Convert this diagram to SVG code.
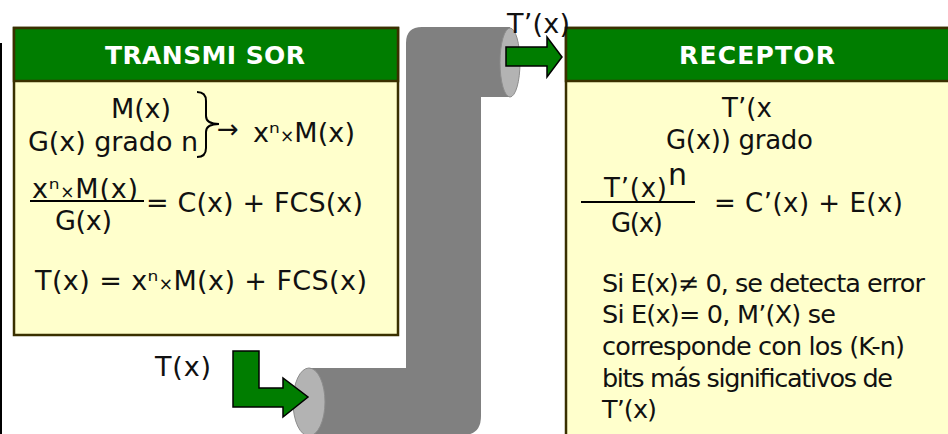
<svg xmlns="http://www.w3.org/2000/svg" width="948" height="434" viewBox="0 0 948 434">
<style>
text{font-family:"DejaVu Sans","Verdana",sans-serif;font-size:27px;fill:#111}
.hdr{font-weight:bold;fill:#fff;font-size:25px}
.r{font-size:26px}
.body{font-size:25.5px}
.box{fill:#ffffcc;stroke:#3a3000;stroke-width:2.5}
.head{fill:#007d00;stroke:#3a3000;stroke-width:2.5}
.frac{stroke:#000;stroke-width:2}
.arrow{fill:#007d00;stroke:#000;stroke-width:1.5;stroke-linejoin:miter}
.tube{fill:#808080}
.tubeEnd{fill:#b3b3b3;stroke:#8c8c8c;stroke-width:1}
.sm{font-size:17px}
</style>
<line x1="1" y1="43" x2="1" y2="434" stroke="#000" stroke-width="2"/>
<g id="canal">
<path class="tube" d="M309,368 L406,368 L406,43 Q406,27 422,27 L510,27 L510,97 L481,97 L481,416 Q481,435 463,435 L309,435 Z"/>
<ellipse class="tubeEnd" cx="510" cy="62.5" rx="10" ry="34.5"/>
<ellipse class="tubeEnd" cx="309" cy="402" rx="16" ry="34"/>
</g>
<g id="transmisor">
<rect class="box" x="14" y="28" width="384" height="307"/>
<rect class="head" x="14" y="28" width="384" height="53"/>
<text class="hdr" x="105" y="64" textLength="200" lengthAdjust="spacing">TRANSMI SOR</text>
<text x="111" y="118" textLength="60" lengthAdjust="spacing">M(x)</text>
<text x="28" y="151" textLength="170" lengthAdjust="spacing">G(x) grado n</text>
<path d="M197,92 Q206,92 206,101 L206,116 Q206,124 219,124 Q206,124 206,132 L206,148 Q206,157 197,157" fill="none" stroke="#000" stroke-width="2"/>
<text x="217" y="138" style="font-size:26px">→</text>
<text x="253" y="142" textLength="102" lengthAdjust="spacing">xⁿ<tspan class="sm">×</tspan>M(x)</text>
<text x="32" y="198" textLength="106" lengthAdjust="spacing">xⁿ<tspan class="sm">×</tspan>M(x)</text>
<line class="frac" x1="30" y1="201" x2="144" y2="201"/>
<text x="55" y="230" textLength="57" lengthAdjust="spacing">G(x)</text>
<text x="146" y="212" textLength="217" lengthAdjust="spacing">= C(x) + FCS(x)</text>
<text x="35" y="290" textLength="332" lengthAdjust="spacing">T(x) = xⁿ<tspan class="sm">×</tspan>M(x) + FCS(x)</text>
</g>
<g id="receptor">
<rect class="box" x="566" y="28" width="400" height="420"/>
<rect class="head" x="566" y="28" width="400" height="53"/>
<text class="hdr" x="679" y="64" textLength="156" lengthAdjust="spacing">RECEPTOR</text>
<text class="r" x="722" y="117" textLength="50" lengthAdjust="spacing">T’(x</text>
<text class="r" x="666" y="149" textLength="147" lengthAdjust="spacing">G(x)) grado</text>
<text class="r" x="604" y="197" textLength="63" lengthAdjust="spacing">T’(x)</text>
<text x="668" y="185" style="font-size:30px">n</text>
<line class="frac" x1="581" y1="202" x2="695" y2="202"/>
<text class="r" x="611" y="232" textLength="52" lengthAdjust="spacing">G(x)</text>
<text class="r" x="714" y="212" textLength="189" lengthAdjust="spacing">= C’(x) + E(x)</text>
<text class="body" x="602" y="292" textLength="323" lengthAdjust="spacing">Si E(x)≠ 0, se detecta error</text>
<text class="body" x="602" y="323" textLength="234" lengthAdjust="spacing">Si E(x)= 0, M’(X) se</text>
<text class="body" x="602" y="355" textLength="303" lengthAdjust="spacing">corresponde con los (K-n)</text>
<text class="body" x="602" y="387" textLength="291" lengthAdjust="spacing">bits más significativos de</text>
<text class="body" x="602" y="418" textLength="55" lengthAdjust="spacing">T’(x)</text>
</g>
<g id="connectors">
<path class="arrow" d="M233,351 L259,351 L259,388 L283,388 L283,378 L308,397 L283,417 L283,407 L233,407 Z"/>
<path class="arrow" d="M506,47 L547,47 L547,37 L562,57 L547,77 L547,66 L506,66 Z"/>
</g>
<text x="155" y="376" textLength="56" lengthAdjust="spacing">T(x)</text>
<text x="507" y="33" textLength="63" lengthAdjust="spacing">T’(x)</text>
</svg>
